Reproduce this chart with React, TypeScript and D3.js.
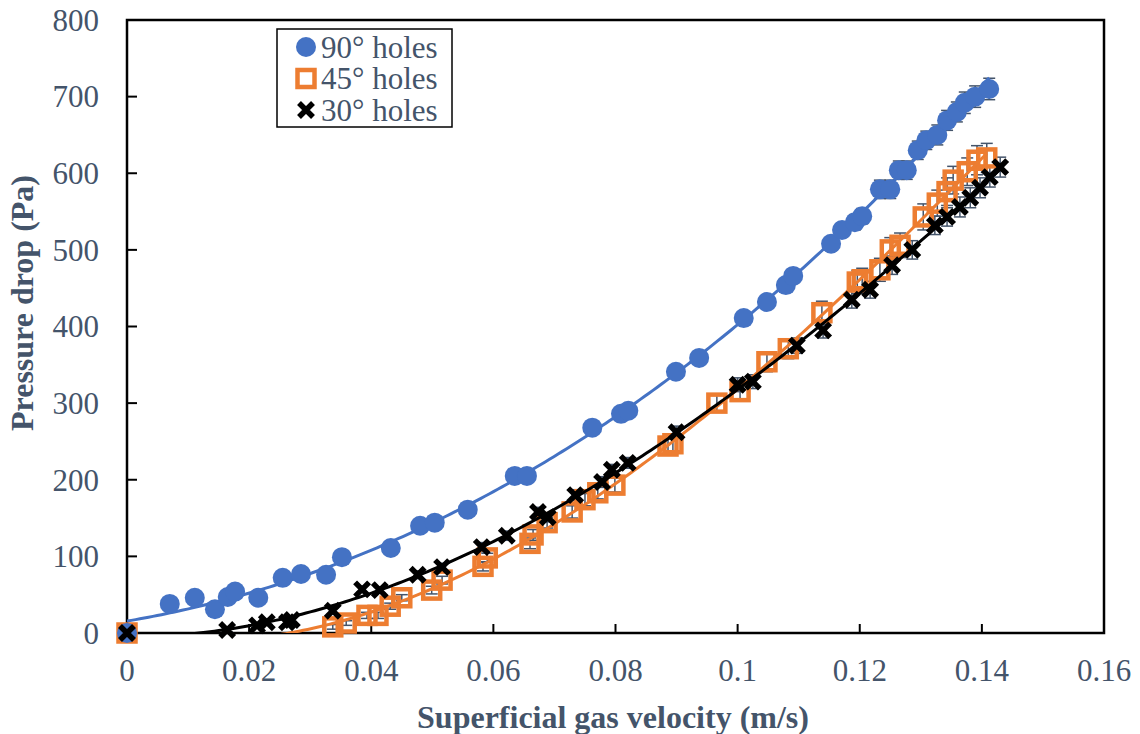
import React from 'react';
import * as d3 from 'd3';

// each row: [superficial gas velocity (m/s), pressure drop (Pa), error (Pa)]
const holes90: number[][] = [
  [0, 0, 0], [0.0070, 38, 3], [0.0111, 46, 3], [0.0144, 31, 3], [0.0165, 47, 3], [0.0177, 54, 3],
  [0.0215, 46, 3], [0.0255, 72, 4], [0.0285, 77, 4], [0.0326, 76, 4], [0.0352, 99, 4],
  [0.0432, 111, 5], [0.0480, 140, 5], [0.0504, 144, 5], [0.0558, 161, 5], [0.0635, 205, 6],
  [0.0655, 205, 6], [0.0762, 268, 6], [0.0809, 286, 7], [0.0821, 290, 7], [0.0899, 341, 7],
  [0.0937, 359, 7], [0.1010, 411, 8], [0.1048, 432, 8], [0.1079, 454, 8], [0.1091, 466, 9],
  [0.1153, 508, 9], [0.1171, 526, 9], [0.1192, 536, 10], [0.1204, 544, 10], [0.1233, 579, 12],
  [0.1250, 579, 12], [0.1264, 604, 12], [0.1277, 604, 12], [0.1295, 630, 12], [0.1309, 643, 12],
  [0.1327, 650, 13], [0.1343, 669, 13], [0.1359, 680, 13], [0.1372, 692, 14], [0.1389, 700, 14],
  [0.1412, 710, 14],
];

const holes45: number[][] = [
  [0, 0, 0], [0.0337, 8, 3], [0.0359, 13, 3], [0.0393, 23, 4], [0.0411, 23, 4], [0.0431, 35, 4],
  [0.0450, 46, 4], [0.0499, 56, 5], [0.0516, 69, 5], [0.0583, 87, 6], [0.0590, 98, 6],
  [0.0660, 117, 7], [0.0665, 128, 7], [0.0688, 144, 7], [0.0729, 158, 8], [0.0750, 174, 8],
  [0.0771, 183, 8], [0.0799, 193, 9], [0.0886, 244, 10], [0.0894, 247, 10], [0.0966, 300, 12],
  [0.1004, 315, 12], [0.1048, 354, 13], [0.1083, 371, 13], [0.1138, 418, 15], [0.1196, 458, 15],
  [0.1204, 461, 15], [0.1233, 474, 15], [0.1250, 500, 16], [0.1266, 506, 16], [0.1304, 543, 17],
  [0.1327, 561, 17], [0.1343, 576, 18], [0.1353, 591, 18], [0.1376, 602, 18], [0.1392, 617, 19],
  [0.1408, 620, 19],
];

const holes30: number[][] = [
  [0, 0, 0], [0.0164, 4, 3], [0.0213, 10, 3], [0.0229, 14, 3], [0.0262, 14, 4], [0.0270, 17, 4],
  [0.0337, 29, 4], [0.0385, 57, 4], [0.0414, 56, 4], [0.0476, 76, 5], [0.0516, 86, 5],
  [0.0581, 112, 6], [0.0622, 127, 6], [0.0673, 158, 6], [0.0689, 151, 6], [0.0734, 180, 7],
  [0.0778, 197, 7], [0.0794, 213, 7], [0.0820, 222, 7], [0.0900, 262, 8], [0.1000, 324, 9],
  [0.1025, 328, 9], [0.1097, 375, 10], [0.1140, 395, 10], [0.1187, 435, 11], [0.1217, 448, 11],
  [0.1253, 480, 12], [0.1286, 500, 12], [0.1323, 532, 12], [0.1343, 543, 12], [0.1364, 556, 13],
  [0.1381, 568, 13], [0.1397, 581, 13], [0.1413, 595, 13], [0.1430, 608, 13],
];

const seriesNames = ['90° holes', '45° holes', '30° holes'];
const seriesColors = ['#4472C4', '#ED7D31', '#000000'];
const xTicks = [0, 0.02, 0.04, 0.06, 0.08, 0.1, 0.12, 0.14, 0.16];
const yTicks = [0, 100, 200, 300, 400, 500, 600, 700, 800];

const W = 1140;
const H = 734;
const plot = { left: 127, right: 1104, top: 20, bottom: 633 };
const textColor = '#44546A';
const font = '"Liberation Serif", "Times New Roman", serif';

// least squares polynomial, like an Excel polynomial trendline
function polyFit(rows: number[][], order: number) {
  const n = order + 1;
  const m: number[][] = d3.range(n).map(() => d3.range(n + 1).map(() => 0));
  rows.forEach(([x, y]) => {
    for (let i = 0; i < n; i++) {
      for (let j = 0; j < n; j++) m[i][j] += Math.pow(x, i + j);
      m[i][n] += y * Math.pow(x, i);
    }
  });
  for (let i = 0; i < n; i++) {
    let p = i;
    for (let r = i + 1; r < n; r++) if (Math.abs(m[r][i]) > Math.abs(m[p][i])) p = r;
    [m[i], m[p]] = [m[p], m[i]];
    for (let r = 0; r < n; r++) {
      if (r === i) continue;
      const f = m[r][i] / m[i][i];
      for (let c = i; c <= n; c++) m[r][c] -= f * m[i][c];
    }
  }
  const c = m.map((row, i) => row[n] / row[i]);
  return (x: number) => c.reduce((acc, ci, i) => acc + ci * Math.pow(x, i), 0);
}

const x = d3.scaleLinear().domain([0, 0.16]).range([plot.left, plot.right]);
const y = d3.scaleLinear().domain([0, 800]).range([plot.bottom, plot.top]);

function Marker({ kind, cx, cy }: { kind: number; cx: number; cy: number }) {
  if (kind === 0) return <circle cx={cx} cy={cy} r={10} fill={seriesColors[0]} />;
  if (kind === 1)
    return (
      <rect x={cx - 8.5} y={cy - 8.5} width={17} height={17} fill="none"
        stroke={seriesColors[1]} strokeWidth={4.5} />
    );
  const d = 7;
  return (
    <path d={`M${cx - d},${cy - d}L${cx + d},${cy + d}M${cx - d},${cy + d}L${cx + d},${cy - d}`}
      stroke={seriesColors[2]} strokeWidth={5.5} fill="none" />
  );
}

export default function App() {
  const allSeries = [holes90, holes45, holes30];

  const trend = allSeries.map((rows) => {
    const f = polyFit(rows, 3);
    const xMax = d3.max(rows, (r) => r[0]) as number;
    const xs = d3.range(0, 201).map((i) => (xMax * i) / 200);
    return d3.line<number>().x((v) => x(v)).y((v) => y(f(v)))(xs) || '';
  });

  return (
    <div style={{ position: 'absolute', left: 0, top: 0 }}>
      <svg width={W} height={H} style={{ display: 'block', background: '#fff' }}>
        <defs>
          <clipPath id="plotClip">
            <rect x={plot.left} y={plot.top} width={plot.right - plot.left} height={plot.bottom - plot.top} />
          </clipPath>
        </defs>

        {/* frame */}
        <rect x={plot.left} y={plot.top} width={plot.right - plot.left} height={plot.bottom - plot.top}
          fill="none" stroke="#000" strokeWidth={2.5} />

        {/* ticks */}
        {yTicks.map((t) => (
          <g key={'y' + t}>
            <line x1={plot.left} x2={plot.left + 10} y1={y(t)} y2={y(t)} stroke="#000" strokeWidth={2} />
            <text x={plot.left - 28} y={y(t)} dy="0.35em" textAnchor="end" fill={textColor}
              fontFamily={font} fontSize={31}>{t}</text>
          </g>
        ))}
        {xTicks.map((t) => (
          <g key={'x' + t}>
            <line x1={x(t)} x2={x(t)} y1={plot.bottom} y2={plot.bottom - 9} stroke="#000" strokeWidth={2} />
            <text x={x(t)} y={681} textAnchor="middle" fill={textColor}
              fontFamily={font} fontSize={31}>{String(+t.toFixed(2))}</text>
          </g>
        ))}

        {/* axis titles */}
        <text x={613} y={728} textAnchor="middle" fill={textColor} fontFamily={font}
          fontSize={32} fontWeight="bold">Superficial gas velocity (m/s)</text>
        <text transform={`translate(33,303) rotate(-90)`} textAnchor="middle"
          fill={textColor} fontFamily={font} fontSize={32} fontWeight="bold">Pressure drop (Pa)</text>

        {/* error bars */}
        {allSeries.map((rows, si) => (
          <g key={'e' + si} stroke={textColor} strokeWidth={1.5}>
            {rows.filter((r) => r[2] > 0).map((r, i) => (
              <g key={i}>
                <line x1={x(r[0])} x2={x(r[0])} y1={y(r[1] - r[2])} y2={y(r[1] + r[2])} />
                <line x1={x(r[0]) - 6} x2={x(r[0]) + 6} y1={y(r[1] - r[2])} y2={y(r[1] - r[2])} />
                <line x1={x(r[0]) - 6} x2={x(r[0]) + 6} y1={y(r[1] + r[2])} y2={y(r[1] + r[2])} />
              </g>
            ))}
          </g>
        ))}

        {/* markers of 45° series */}
        {holes45.map((r, i) => <Marker key={'m1' + i} kind={1} cx={x(r[0])} cy={y(r[1])} />)}

        {/* trendlines, clipped to the plot area */}
        <g clipPath="url(#plotClip)">
          {trend.map((d, si) => (
            <path key={'t' + si} d={d} fill="none" stroke={seriesColors[si]} strokeWidth={3} />
          ))}
        </g>

        {holes90.map((r, i) => <Marker key={'m0' + i} kind={0} cx={x(r[0])} cy={y(r[1])} />)}
        {holes30.map((r, i) => <Marker key={'m2' + i} kind={2} cx={x(r[0])} cy={y(r[1])} />)}

        {/* legend */}
        <rect x={277} y={29} width={175} height={98} fill="#fff" stroke="#000" strokeWidth={1.5} />
        {seriesNames.map((name, i) => (
          <g key={name}>
            <Marker kind={i} cx={306} cy={47 + i * 31.5} />
            <text x={321} y={47 + i * 31.5} dy="0.35em" fill={textColor} fontFamily={font}
              fontSize={31}>{name}</text>
          </g>
        ))}
      </svg>
    </div>
  );
}
